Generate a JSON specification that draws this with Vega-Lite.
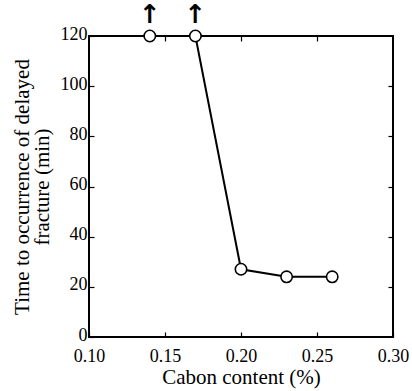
{
  "$schema": "https://vega.github.io/schema/vega-lite/v6.json",
  "autosize": {"type": "none"},
  "padding": {"left": 89, "top": 36, "right": 19, "bottom": 54},
  "width": 304,
  "height": 301,
  "background": "white",
  "config": {
    "font": "Liberation Serif, serif",
    "view": {"stroke": "black", "strokeWidth": 2},
    "axis": {
      "labelFont": "Liberation Serif, serif",
      "titleFont": "Liberation Serif, serif",
      "labelFontSize": 18,
      "titleFontSize": 21,
      "titleFontWeight": "normal",
      "labelColor": "black",
      "titleColor": "black",
      "domain": false,
      "grid": false,
      "tickColor": "black",
      "tickWidth": 1.2,
      "tickSize": -5
    }
  },
  "data": {
    "values": [
      {"c": 0.14, "t": 120, "lower": "yes"},
      {"c": 0.17, "t": 120, "lower": "yes"},
      {"c": 0.20, "t": 27, "lower": "no"},
      {"c": 0.23, "t": 24, "lower": "no"},
      {"c": 0.26, "t": 24, "lower": "no"}
    ]
  },
  "layer": [
    {
      "mark": {"type": "line", "color": "black", "strokeWidth": 2},
      "encoding": {
        "x": {"field": "c", "type": "quantitative", "scale": {"domain": [0.1, 0.3], "nice": false},
          "axis": {"orient": "bottom", "values": [0.1, 0.15, 0.2, 0.25, 0.3], "format": ".2f", "labelPadding": 15, "title": "Cabon content (%)", "titlePadding": 1, "labelFlush": false}},
        "y": {"field": "t", "type": "quantitative", "scale": {"domain": [0, 120], "nice": false},
          "axis": {"orient": "left", "values": [0, 20, 40, 60, 80, 100, 120], "labelPadding": 7, "labelOffset": -2, "title": ["Time to occurrence of delayed", "fracture (min)"], "titlePadding": 8, "titleLineHeight": 20, "labelFlush": false}}
      }
    },
    {
      "mark": {"type": "point", "filled": true, "fill": "white", "stroke": "black", "strokeWidth": 1.6, "size": 130, "opacity": 1},
      "encoding": {
        "x": {"field": "c", "type": "quantitative", "scale": {"domain": [0.1, 0.3], "nice": false},
          "axis": {"orient": "top", "values": [0.15, 0.2, 0.25], "labels": false, "title": null}},
        "y": {"field": "t", "type": "quantitative", "scale": {"domain": [0, 120], "nice": false},
          "axis": {"orient": "right", "values": [20, 40, 60, 80, 100], "labels": false, "title": null}}
      }
    },
    {
      "transform": [{"filter": "datum.lower == 'yes'"}],
      "mark": {"type": "text", "text": "↑", "font": "DejaVu Sans", "fontSize": 26, "fontWeight": "bold", "dy": -21, "color": "black", "clip": false},
      "encoding": {
        "x": {"field": "c", "type": "quantitative", "scale": {"domain": [0.1, 0.3], "nice": false}, "axis": null},
        "y": {"field": "t", "type": "quantitative", "scale": {"domain": [0, 120], "nice": false}, "axis": null}
      }
    }
  ],
  "resolve": {"axis": {"x": "independent", "y": "independent"}}
}
